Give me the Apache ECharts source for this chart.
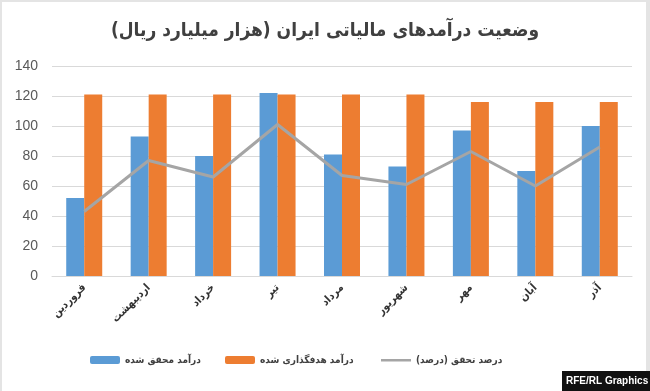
<!DOCTYPE html>
<html>
<head>
<meta charset="utf-8">
<script src="https://cdn.jsdelivr.net/npm/echarts@6/dist/echarts.min.js"></script>
<style>
html,body{margin:0;padding:0;background:#fff;}
#wrap{position:relative;width:650px;height:391px;box-sizing:border-box;border-top:2px solid #e4e4e4;border-left:2px solid #e4e4e4;border-right:4px solid #e4e4e4;}
#chart{position:absolute;left:-2px;top:-2px;width:650px;height:391px;}
</style>
</head>
<body>
<div id="wrap"><div id="chart"></div></div>
<script>
const categories = ['فروردین','اردیبهشت','خرداد','تیر','مرداد','شهریور','مهر','آبان','آذر'];
const realized = [52, 93, 80, 122, 81, 73, 97, 70, 100];
const target = [121, 121, 121, 121, 121, 121, 116, 116, 116];
const percent = [43, 77, 66, 101, 67, 61, 83, 60, 86];
const yTicks = [0, 20, 40, 60, 80, 100, 120, 140];
const titleText = 'وضعیت درآمدهای مالیاتی ایران (هزار میلیارد ریال)';
const legendNames = ['درآمد محقق شده', 'درآمد هدفگذاری شده', 'درصد تحقق (درصد)'];

const legendText = {fontFamily:'DejaVu Sans Condensed', fontSize:10, fontWeight:'bold', color:'#404040'};
const lineIcon = 'path://M0,0 L1,0 M0,3 L30,3 L30,5.5 L0,5.5 Z M0,8 L1,8';

const chart = echarts.init(document.getElementById('chart'), null, {renderer:'canvas'});
chart.setOption({
  animation:false,
  backgroundColor:'transparent',
  title:{
    text:titleText, left:'center', top:17,
    textStyle:{fontFamily:'DejaVu Sans Condensed', fontSize:19, fontWeight:'bold', color:'#404040'}
  },
  legend:[
    {data:[legendNames[0]], left:85, top:350, itemWidth:30, itemHeight:8, textStyle:legendText},
    {data:[legendNames[1]], left:220, top:350, itemWidth:30, itemHeight:8, textStyle:legendText},
    {data:[{name:legendNames[2], icon:lineIcon}], left:376, top:350, itemWidth:30, itemHeight:8, textStyle:legendText}
  ],
  grid:{left:52, right:18, top:66, bottom:115},
  xAxis:{
    type:'category', data:categories,
    axisLine:{show:true, lineStyle:{color:'#d9d9d9'}},
    axisTick:{show:false},
    axisLabel:{rotate:45, margin:10, fontFamily:'DejaVu Sans Condensed', fontSize:11, fontWeight:'bold', color:'#333'}
  },
  yAxis:{
    type:'value', min:yTicks[0], max:yTicks[yTicks.length-1], interval:20,
    axisLine:{show:false}, axisTick:{show:false},
    axisLabel:{fontFamily:'Liberation Sans', fontSize:14, color:'#595959', margin:14},
    splitLine:{lineStyle:{color:'#d9d9d9', width:1}}
  },
  series:[
    {name:legendNames[0], type:'bar', data:realized, barWidth:18, barGap:'0%', itemStyle:{color:'#5b9bd5'}},
    {name:legendNames[1], type:'bar', data:target, barWidth:18, barGap:'0%', itemStyle:{color:'#ed7d31'}},
    {name:legendNames[2], type:'line', data:percent, symbol:'none', lineStyle:{color:'#a5a5a5', width:3}, itemStyle:{color:'#a5a5a5'}, z:5}
  ],
  graphic:[
    {type:'rect', left:562, top:371, shape:{width:88, height:20}, style:{fill:'#111'}},
    {type:'text', left:566, top:376, style:{text:'RFE/RL Graphics', fill:'#fff', font:'bold 10px "Liberation Sans", Arial'}}
  ]
});
</script>
</body>
</html>
